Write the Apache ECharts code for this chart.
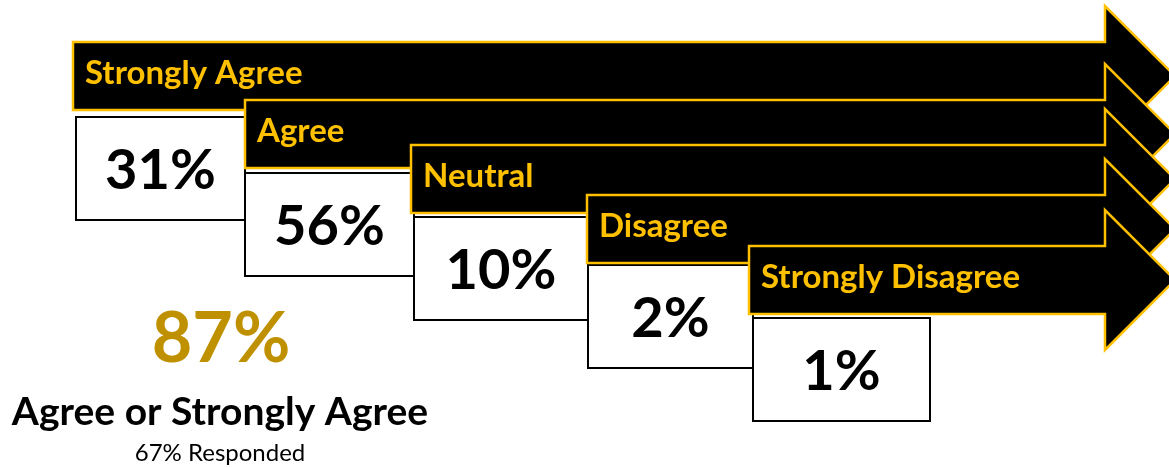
<!DOCTYPE html>
<html><head><meta charset="utf-8">
<script src="https://cdn.jsdelivr.net/npm/echarts@6/dist/echarts.min.js"></script>
<style>html,body{margin:0;padding:0;background:#fff}#c{width:1169px;height:467px}</style>
</head><body><div id="c"></div>
<script>
// ---- data ----
const categories = ['Strongly Agree', 'Agree', 'Neutral', 'Disagree', 'Strongly Disagree'];
const percents = [31, 56, 10, 2, 1];
const summaryPercent = 87;
const summaryLabel = 'Agree or Strongly Agree';
const responseRate = 67;

// ---- layout (pixel coordinates on hidden axes) ----
const arrowLeft = [73, 245, 411, 587, 749];
const arrowTop = [42, 100, 145, 195, 246];
const boxLeft = [76, 245, 414, 588, 753];
const boxTop = [117, 173, 217, 265, 318];
const lastBoxRight = 930;
const shaftH = 68, headExt = 36, headX = 1105, boxH = 103;

const FONT = 'Lato';
const YEL = '#FFC000';

const chart = echarts.init(document.getElementById('c'), null, {renderer: 'canvas'});
chart.setOption({
  animation: false,
  backgroundColor: '#fff',
  grid: {left: 0, right: 0, top: 0, bottom: 0},
  xAxis: {type: 'value', min: 0, max: 1169, show: false},
  yAxis: {type: 'value', min: 0, max: 467, inverse: true, show: false},
  series: [{
    type: 'custom',
    clip: false,
    data: percents.map((p, i) => [i, p]),
    renderItem: function (params, api) {
      const i = api.value(0);
      const pct = api.value(1);
      const tl = api.coord([arrowLeft[i], arrowTop[i]]);
      const hx = api.coord([headX, 0])[0];
      const L = tl[0], T = tl[1], H = shaftH, E = headExt;
      const bl = api.coord([boxLeft[i], boxTop[i]]);
      const bRight = i < categories.length - 1 ? api.coord([boxLeft[i + 1], 0])[0] : api.coord([lastBoxRight, 0])[0];
      const bw = bRight - bl[0];
      return {
        type: 'group',
        children: [
          {type: 'rect', shape: {x: bl[0], y: bl[1], width: bw, height: boxH},
           style: {fill: '#fff', stroke: '#000', lineWidth: 2}},
          {type: 'text', style: {text: pct + '%', x: bl[0] + bw / 2, y: bl[1] + boxH / 2 + 2,
            align: 'center', verticalAlign: 'middle', fill: '#000',
            font: 'bold 56px ' + FONT}},
          {type: 'polygon', shape: {points: [
            [L, T], [hx, T], [hx, T - E], [hx + H / 2 + E, T + H / 2],
            [hx, T + H + E], [hx, T + H], [L, T + H]]},
           style: {fill: '#000', stroke: YEL, lineWidth: 2.5, lineJoin: 'miter'}},
          {type: 'text', style: {text: categories[i], x: L + 12, y: T + H / 2 - 3,
            align: 'left', verticalAlign: 'middle', fill: YEL,
            font: 'bold 33px ' + FONT}}
        ]
      };
    }
  }],
  graphic: [
    {type: 'text', style: {text: summaryPercent + '%', x: 221, y: 339, align: 'center', verticalAlign: 'middle',
      font: 'bold 70px ' + FONT, fill: '#BF9000'}},
    {type: 'text', style: {text: summaryLabel, x: 220, y: 412, align: 'center', verticalAlign: 'middle',
      font: 'bold 39px ' + FONT, fill: '#000'}},
    {type: 'text', style: {text: responseRate + '% Responded', x: 220, y: 453, align: 'center', verticalAlign: 'middle',
      font: '24px ' + FONT, fill: '#000'}}
  ]
});
</script></body></html>
